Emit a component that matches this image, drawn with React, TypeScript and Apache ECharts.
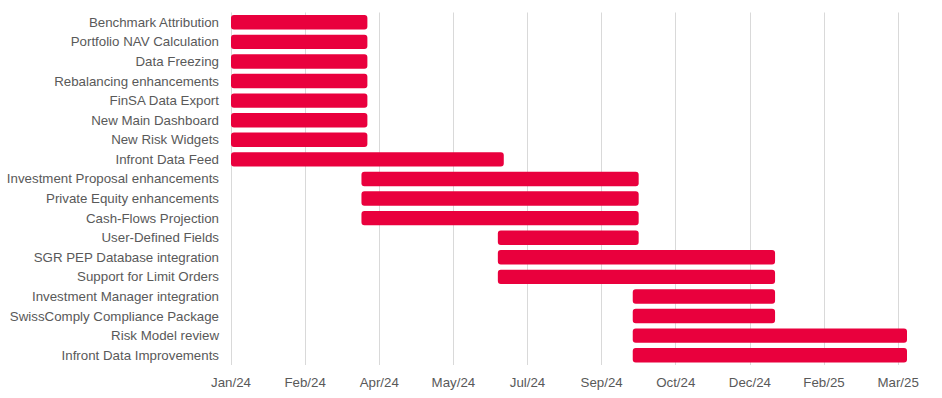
import React, { useEffect, useRef } from 'react';
import * as echarts from 'echarts';

const tasks = [
  'Benchmark Attribution',
  'Portfolio NAV Calculation',
  'Data Freezing',
  'Rebalancing enhancements',
  'FinSA Data Export',
  'New Main Dashboard',
  'New Risk Widgets',
  'Infront Data Feed',
  'Investment Proposal enhancements',
  'Private Equity enhancements',
  'Cash-Flows Projection',
  'User-Defined Fields',
  'SGR PEP Database integration',
  'Support for Limit Orders',
  'Investment Manager integration',
  'SwissComply Compliance Package',
  'Risk Model review',
  'Infront Data Improvements',
];

const startDates = [
  '2024-01-01', '2024-01-01', '2024-01-01', '2024-01-01', '2024-01-01', '2024-01-01', '2024-01-01',
  '2024-01-01',
  '2024-03-29', '2024-03-29', '2024-03-29',
  '2024-06-29', '2024-06-29', '2024-06-29',
  '2024-09-28', '2024-09-28', '2024-09-28', '2024-09-28',
];

const endDates = [
  '2024-04-02', '2024-04-02', '2024-04-02', '2024-04-02', '2024-04-02', '2024-04-02', '2024-04-02',
  '2024-07-03',
  '2024-10-02', '2024-10-02', '2024-10-02',
  '2024-10-02', '2025-01-02', '2025-01-02',
  '2025-01-02', '2025-01-02', '2025-04-01', '2025-04-01',
];

const tickDates = [
  '2024-01-01', '2024-02-20', '2024-04-10', '2024-05-30', '2024-07-19',
  '2024-09-07', '2024-10-27', '2024-12-16', '2025-02-04', '2025-03-26',
];

const axisMinDate = '2024-01-01';
const axisMaxDate = '2025-04-01';

const MONTHS = ['Jan', 'Feb', 'Mar', 'Apr', 'May', 'Jun', 'Jul', 'Aug', 'Sep', 'Oct', 'Nov', 'Dec'];
const toMs = (s: string) => Date.parse(s + 'T00:00:00Z');
const fmt = (v: number) => {
  const d = new Date(v);
  return MONTHS[d.getUTCMonth()] + '/' + String(d.getUTCFullYear()).slice(2);
};

export default function App() {
  const ref = useRef<HTMLDivElement>(null);
  useEffect(() => {
    if (!ref.current) return;
    const chart = echarts.init(ref.current, undefined, { renderer: 'svg' });
    const starts = startDates.map(toMs);
    const durations = endDates.map((e, i) => toMs(e) - starts[i]);
    const ticks = tickDates.map(toMs);
    const font = "Arial, 'Liberation Sans', sans-serif";
    chart.setOption({
      animation: false,
      backgroundColor: '#ffffff',
      grid: {
        left: 231,
        right: 35,
        top: 12.5,
        bottom: 33,
        containLabel: false,
        outerBoundsMode: 'none',
      },
      xAxis: {
        type: 'value',
        min: toMs(axisMinDate),
        max: toMs(axisMaxDate),
        axisLine: { show: false },
        axisTick: { show: false, customValues: ticks },
        splitLine: { show: true, lineStyle: { color: '#d9d9d9', width: 1 } },
        axisLabel: {
          customValues: ticks,
          formatter: (v: number) => fmt(v),
          color: '#595959',
          fontSize: 13.3,
          fontFamily: font,
          margin: 11,
          hideOverlap: false,
        },
      },
      yAxis: {
        type: 'category',
        data: tasks,
        inverse: true,
        axisLine: { show: false },
        axisTick: { show: false },
        splitLine: { show: false },
        axisLabel: {
          color: '#595959',
          fontSize: 13.3,
          fontFamily: font,
          margin: 12,
          interval: 0,
        },
      },
      series: [
        {
          type: 'bar',
          stack: 'gantt',
          data: starts,
          barWidth: '74%',
          itemStyle: { color: 'transparent' },
          silent: true,
        },
        {
          type: 'bar',
          stack: 'gantt',
          data: durations,
          barWidth: '74%',
          itemStyle: { color: '#e9003d', borderRadius: 3 },
        },
      ],
    });
    return () => chart.dispose();
  }, []);
  return <div ref={ref} style={{ position: 'fixed', left: 0, top: 0, width: 942, height: 398 }} />;
}
